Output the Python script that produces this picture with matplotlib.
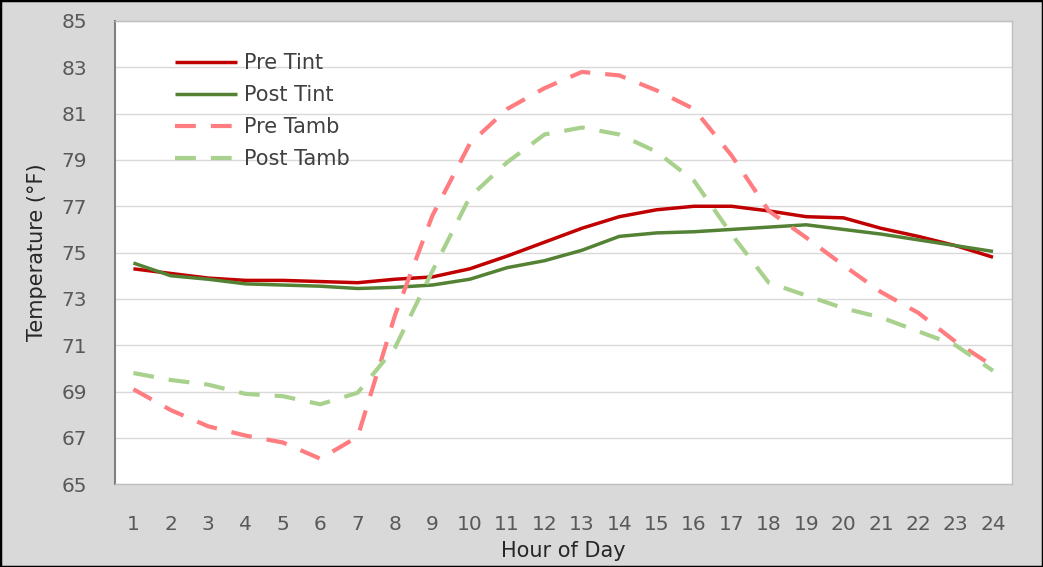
import matplotlib
matplotlib.use('Agg')
from matplotlib import pyplot as plt
from matplotlib.patches import Rectangle

hours = list(range(1, 25))
pre_tint = [74.3, 74.1, 73.9, 73.8, 73.8, 73.75, 73.7, 73.85, 73.95, 74.3, 74.85, 75.45,
            76.05, 76.55, 76.85, 77.0, 77.0, 76.8, 76.55, 76.5, 76.05, 75.7, 75.3, 74.8]
post_tint = [74.55, 74.0, 73.85, 73.65, 73.6, 73.55, 73.45, 73.5, 73.6, 73.85, 74.35, 74.65,
             75.1, 75.7, 75.85, 75.9, 76.0, 76.1, 76.2, 76.0, 75.8, 75.55, 75.3, 75.05]
pre_tamb = [69.1, 68.2, 67.5, 67.1, 66.8, 66.1, 67.05, 72.3, 76.6, 79.7, 81.2, 82.1,
            82.8, 82.65, 82.0, 81.2, 79.2, 76.8, 75.65, 74.45, 73.3, 72.4, 71.15, 70.1]
post_tamb = [69.8, 69.5, 69.3, 68.9, 68.8, 68.45, 68.95, 70.9, 74.2, 77.4, 78.9, 80.1,
             80.4, 80.1, 79.35, 78.1, 75.8, 73.7, 73.15, 72.6, 72.2, 71.6, 71.0, 69.9]

series = [
    ('Pre Tint', pre_tint, '#c00000', '-', 2.5),
    ('Post Tint', post_tint, '#548235', '-', 2.5),
    ('Pre Tamb', pre_tamb, '#ff7c80', (0, (5.0, 3.6)), 3.0),
    ('Post Tamb', post_tamb, '#a9d18e', (0, (5.0, 3.6)), 3.0),
]

plt.rcParams['font.family'] = ['DejaVu Sans']

figure = plt.figure(figsize=(10.43, 5.67), dpi=100, facecolor='#d9d9d9')
figure.patches.append(Rectangle((0, 0), 1, 1, transform=figure.transFigure, fill=False,
                                edgecolor='black', linewidth=2.5))
axes = figure.add_axes([0.110, 0.146, 0.860, 0.817])
axes.set_facecolor('white')

for name, values, color, style, width in series:
    axes.plot(hours, values, label=name, color=color, linestyle=style, linewidth=width,
              solid_capstyle='butt', dash_capstyle='butt')

axes.set_xlim(0.5, 24.5)
axes.set_ylim(65, 85)
axes.set_xticks(hours)
axes.set_yticks(range(65, 86, 2))
axes.grid(axis='y', color='#d9d9d9', linewidth=1)
axes.set_axisbelow(True)
axes.tick_params(length=0, labelsize=14.5, labelcolor='#595959')
axes.tick_params(axis='x', pad=22)
axes.tick_params(axis='y', pad=20)

for side in ['top', 'right', 'bottom']:
    axes.spines[side].set_color('#bfbfbf')
    axes.spines[side].set_linewidth(1)
axes.spines['left'].set_color('#808080')
axes.spines['left'].set_linewidth(1.5)

axes.set_xlabel('Hour of Day', fontsize=15, color='#262626', labelpad=5)
axes.set_ylabel('Temperature (°F)', fontsize=15, color='#262626', labelpad=10)

legend = axes.legend(loc='upper left', bbox_to_anchor=(0.067, 0.931), frameon=False, fontsize=15,
                     handlelength=3.0, handletextpad=0.33, labelspacing=0.58, borderaxespad=0,
                     borderpad=0)
for text in legend.get_texts():
    text.set_color('#404040')

plt.savefig('out.png', dpi=100, facecolor=figure.get_facecolor())
